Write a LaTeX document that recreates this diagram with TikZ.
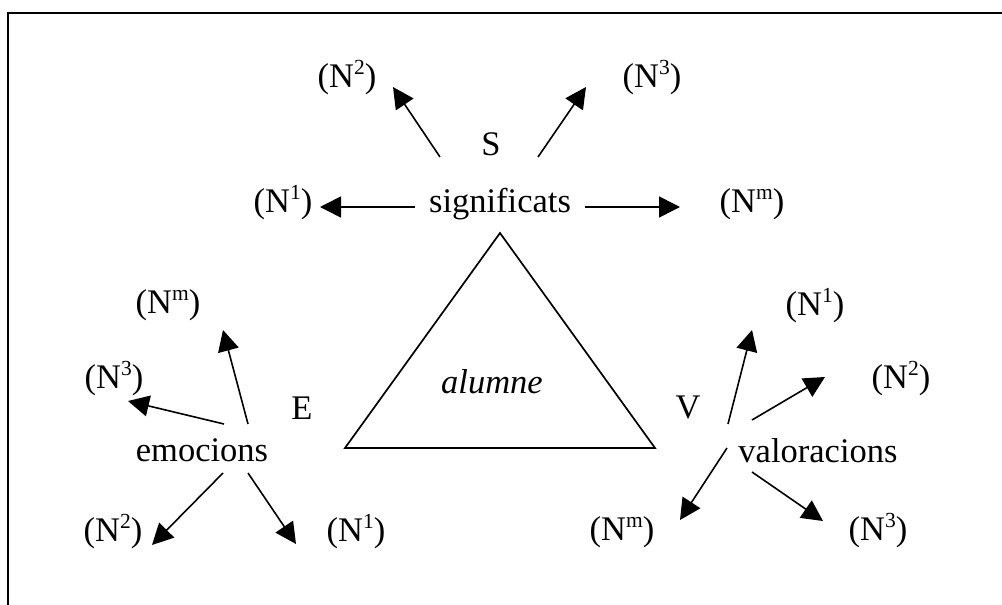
\documentclass[tikz,border=0pt]{standalone}
\usepackage{fontspec}
\setmainfont{Liberation Serif}
\usetikzlibrary{arrows.meta}
\newcommand\supx[1]{\raisebox{13pt}{\fontsize{21.5}{22}\selectfont #1}}
\begin{document}
\begin{tikzpicture}[x=1pt,y=-1pt,
  lbl/.style={font=\fontsize{34.5}{40}\selectfont, inner sep=0pt, anchor=base},
  arr/.style={-{Triangle[length=21pt,width=21pt]}, line width=1.6pt},
  frame/.style={line width=2pt},
  tri/.style={line width=1.7pt, line join=miter}]
\useasboundingbox (0,0) rectangle (1002,605);
\draw[frame] (8,605) -- (8,13) -- (1002,13);

% triangle
\coordinate (ta) at (500,233);
\coordinate (tl) at (345,448);
\coordinate (tr) at (655,448);
\draw[tri] (ta) -- (tl) -- (tr) -- cycle;
\node[lbl] (alumne) at (492,393) {\itshape alumne};

% top cluster: significats
\node[lbl] (S) at (491,155) {S};
\node[lbl] (sig) at (500,212) {significats};
\node[lbl] (sN1) at (283,212) {(N\supx{1})};
\node[lbl] (sNm) at (752,212) {(N\supx{m})};
\node[lbl] (sN2) at (347,87) {(N\supx{2})};
\node[lbl] (sN3) at (652,87) {(N\supx{3})};
\coordinate (s1a) at (415,207); \coordinate (s1b) at (320,207);
\coordinate (sma) at (585,207); \coordinate (smb) at (680,207);
\coordinate (s2a) at (440,157); \coordinate (s2b) at (393,87);
\coordinate (s3a) at (538,157); \coordinate (s3b) at (586,87);
\draw[arr] (s1a) -- (s1b);
\draw[arr] (sma) -- (smb);
\draw[arr] (s2a) -- (s2b);
\draw[arr] (s3a) -- (s3b);

% left cluster: emocions
\node[lbl] (E) at (302,419) {E};
\node[lbl] (emo) at (202,461) {emocions};
\node[lbl] (eNm) at (168,313) {(N\supx{m})};
\node[lbl] (eN3) at (114,388) {(N\supx{3})};
\node[lbl] (eN2) at (113,541) {(N\supx{2})};
\node[lbl] (eN1) at (356,541) {(N\supx{1})};
\coordinate (ema) at (248,424); \coordinate (emb) at (223,330);
\coordinate (e3a) at (224,424); \coordinate (e3b) at (128,401);
\coordinate (e2a) at (223,473); \coordinate (e2b) at (152,545);
\coordinate (e1a) at (248,473); \coordinate (e1b) at (296,544);
\draw[arr] (ema) -- (emb);
\draw[arr] (e3a) -- (e3b);
\draw[arr] (e2a) -- (e2b);
\draw[arr] (e1a) -- (e1b);

% right cluster: valoracions
\node[lbl] (V) at (688,418) {V};
\node[lbl] (val) at (818,462) {valoracions};
\node[lbl] (vN1) at (815,315) {(N\supx{1})};
\node[lbl] (vN2) at (901,388) {(N\supx{2})};
\node[lbl] (vNm) at (622,540) {(N\supx{m})};
\node[lbl] (vN3) at (878,540) {(N\supx{3})};
\coordinate (v1a) at (728,424); \coordinate (v1b) at (752,330);
\coordinate (v2a) at (752,420); \coordinate (v2b) at (825,377);
\coordinate (vma) at (727,448); \coordinate (vmb) at (680,520);
\coordinate (v3a) at (752,472); \coordinate (v3b) at (823,521);
\draw[arr] (v1a) -- (v1b);
\draw[arr] (v2a) -- (v2b);
\draw[arr] (vma) -- (vmb);
\draw[arr] (v3a) -- (v3b);
\end{tikzpicture}
\end{document}
